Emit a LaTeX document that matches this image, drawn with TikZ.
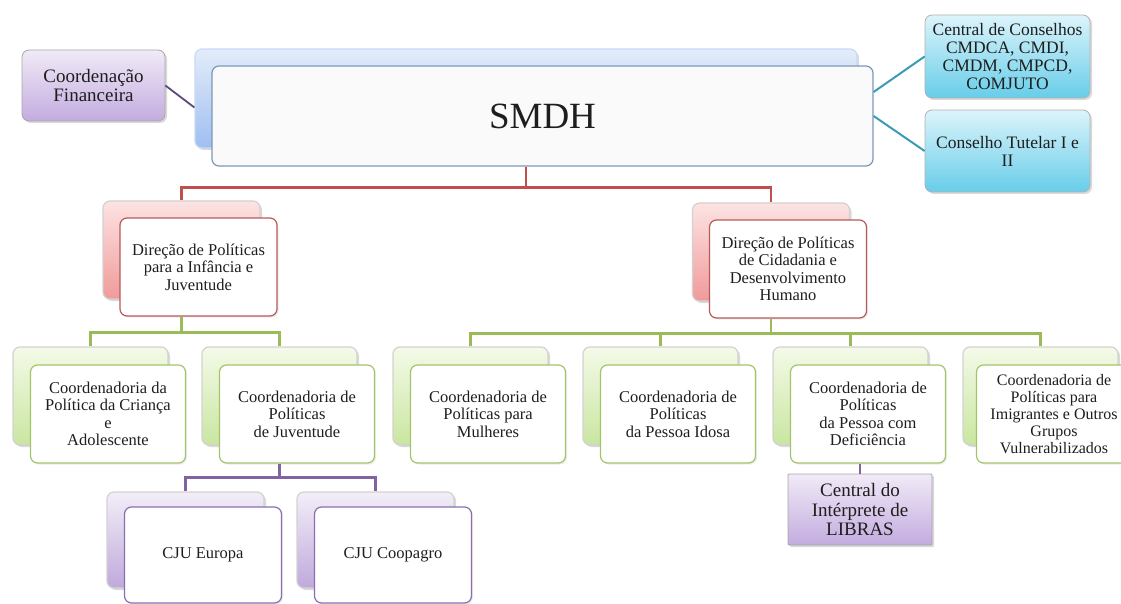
\documentclass[tikz,border=0pt]{standalone}
\usepackage{fontspec}
\setmainfont{Liberation Serif}
\usetikzlibrary{shadows,calc}
\definecolor{txtgray}{HTML}{1E1E1E}
\definecolor{blueTop}{HTML}{E3ECFA}
\definecolor{blueBot}{HTML}{9FBEF0}
\definecolor{blueEdge}{HTML}{7D98B8}
\definecolor{lavTop}{HTML}{F1EAF7}
\definecolor{lavBot}{HTML}{C3ACDF}
\definecolor{cyanTop}{HTML}{DCF4FB}
\definecolor{cyanBot}{HTML}{67CDE9}
\definecolor{redTop}{HTML}{FDE3E3}
\definecolor{redBot}{HTML}{F09A9A}
\definecolor{redEdge}{HTML}{B65A5A}
\definecolor{greenTop}{HTML}{F4FAE8}
\definecolor{greenBot}{HTML}{C9E6A0}
\definecolor{greenEdge}{HTML}{A4C46A}
\definecolor{purTop}{HTML}{F3EEF8}
\definecolor{purBot}{HTML}{BFA9DC}
\definecolor{purEdge}{HTML}{8A6FB0}
\definecolor{redLine}{HTML}{C0504D}
\definecolor{greenLine}{HTML}{9BBB59}
\definecolor{purLine}{HTML}{8064A2}
\definecolor{tealLine}{HTML}{3A9BB5}
\definecolor{finLine}{HTML}{5F497A}
\begin{document}
\begin{tikzpicture}[x=1pt,y=-1pt,
    box/.style={rectangle,rounded corners=7pt,align=center,text=txtgray,line width=1.2pt,inner sep=2pt},
    shadowed/.style={drop shadow={opacity=0.3,shadow xshift=2pt,shadow yshift=-2pt}},
    back/.style={box,shadowed,draw=gray!35,minimum width=157pt,minimum height=98pt},
    front/.style={box,fill=white,minimum width=157pt,minimum height=98pt,
        font=\fontsize{16.5}{17.5}\selectfont,drop shadow={opacity=0.15,shadow xshift=1.5pt,shadow yshift=-1.5pt}},
    redback/.style={back,top color=redTop,bottom color=redBot},
    redfront/.style={front,draw=redEdge},
    greenback/.style={back,top color=greenTop,bottom color=greenBot,minimum width=155pt},
    greenfront/.style={front,draw=greenEdge,minimum width=155pt},
    purback/.style={back,top color=purTop,bottom color=purBot,minimum height=96pt},
    purfront/.style={front,draw=purEdge,minimum height=96pt},
    lavbox/.style={box,shadowed,draw=gray!70,line width=0.8pt,top color=lavTop,bottom color=lavBot},
    cyanbox/.style={box,shadowed,draw=gray!60,line width=0.8pt,top color=cyanTop,bottom color=cyanBot,
        minimum width=165pt,font=\fontsize{17.5}{18}\selectfont},
    link/.style={line width=2.4pt},
  ]
  \useasboundingbox (0,0) rectangle (1121,604);
  \clip (0,0) rectangle (1121,604);

  % top level
  \node[lavbox,minimum width=143pt,minimum height=71pt,font=\fontsize{19}{18.5}\selectfont] (fin) at (93.5,85.5) {Coordenação\\Financeira};
  \node[box,shadowed,draw=blueTop!60!blueBot,top color=blueTop,bottom color=blueBot,minimum width=662pt,minimum height=99pt] (smdhB) at (526,98.5) {};
  \node[box,fill=gray!4,draw=blueEdge,minimum width=661pt,minimum height=100pt,font=\fontsize{37}{40}\selectfont] (smdhF) at (542.5,116) {SMDH};
  \node[cyanbox,minimum height=83pt] (cons) at (1007.5,56.5) {Central de Conselhos\\CMDCA, CMDI,\\CMDM, CMPCD,\\COMJUTO};
  \node[cyanbox,minimum height=82pt] (tut) at (1007.5,151) {Conselho Tutelar I e\\II};

  % direcoes
  \node[redback] (infB) at (181.5,250) {};
  \node[redfront] (infF) at (198.5,267) {Direção de Políticas\\para a Infância e\\Juventude};
  \node[redback] (cidB) at (771,252) {};
  \node[redfront] (cidF) at (788,269) {Direção de Políticas\\de Cidadania e\\Desenvolvimento\\Humano};

  % coordenadorias
  \node[greenback] (crianB) at (90.5,396) {};
  \node[greenfront] (crianF) at (108,414) {Coordenadoria da\\Política da Criança\\e\\Adolescente};
  \node[greenback] (juvB) at (279.5,396) {};
  \node[greenfront] (juvF) at (297,414) {Coordenadoria de\\Políticas\\de Juventude};
  \node[greenback] (mulB) at (470.5,396) {};
  \node[greenfront] (mulF) at (488,414) {Coordenadoria de\\Políticas para\\Mulheres};
  \node[greenback] (idoB) at (660.5,396) {};
  \node[greenfront] (idoF) at (678,414) {Coordenadoria de\\Políticas\\da Pessoa Idosa};
  \node[greenback] (defB) at (850.5,396) {};
  \node[greenfront] (defF) at (868,414) {Coordenadoria de\\Políticas\\da Pessoa com\\Deficiência};
  \node[greenback] (imiB) at (1040.5,396) {};
  \node[greenfront,font=\fontsize{16}{17}\selectfont] (imiF) at (1054,414) {Coordenadoria de\\Políticas para\\Imigrantes e Outros\\Grupos\\Vulnerabilizados};

  % cju e libras
  \node[purback] (euroB) at (185.5,540) {};
  \node[purfront] (euroF) at (203,555) {CJU Europa};
  \node[purback] (coopB) at (375.5,540) {};
  \node[purfront] (coopF) at (393,555) {CJU Coopagro};
  \node[lavbox,rounded corners=1pt,minimum width=144pt,minimum height=71pt,font=\fontsize{19}{19.5}\selectfont] (libras) at (860,509.5) {Central do\\Intérprete de\\LIBRAS};

  % ligacoes
  \draw[link,finLine,line width=1.8pt] (fin.east) -- ($(smdhB.west)+(0,9)$);
  \draw[link,tealLine,line width=2pt] ($(smdhF.east)+(0,-24)$) -- (cons.west);
  \draw[link,tealLine,line width=2pt] (smdhF.east) -- (tut.west);
  \draw[link,redLine] (smdhB |- smdhF.south) -- ++(0,21) -| (infB.north);
  \draw[link,redLine] (smdhB |- smdhF.south) -- ++(0,21) -| (cidB.north);
  \draw[link,greenLine] (infB |- infF.south) -- ++(0,16) -| (crianB.north);
  \draw[link,greenLine] (infB |- infF.south) -- ++(0,16) -| (juvB.north);
  \draw[link,greenLine] (cidB |- cidF.south) -- ++(0,15) -| (mulB.north);
  \draw[link,greenLine] (cidB |- cidF.south) -- ++(0,15) -| (idoB.north);
  \draw[link,greenLine] (cidB |- cidF.south) -- ++(0,15) -| (defB.north);
  \draw[link,greenLine] (cidB |- cidF.south) -- ++(0,15) -| (imiB.north);
  \draw[link,purLine] (juvB |- juvF.south) -- ++(0,14) -| (euroB.north);
  \draw[link,purLine] (juvB |- juvF.south) -- ++(0,14) -| (coopB.north);
  \draw[link,purLine] (libras |- defF.south) -- (libras.north);
\end{tikzpicture}
\end{document}
